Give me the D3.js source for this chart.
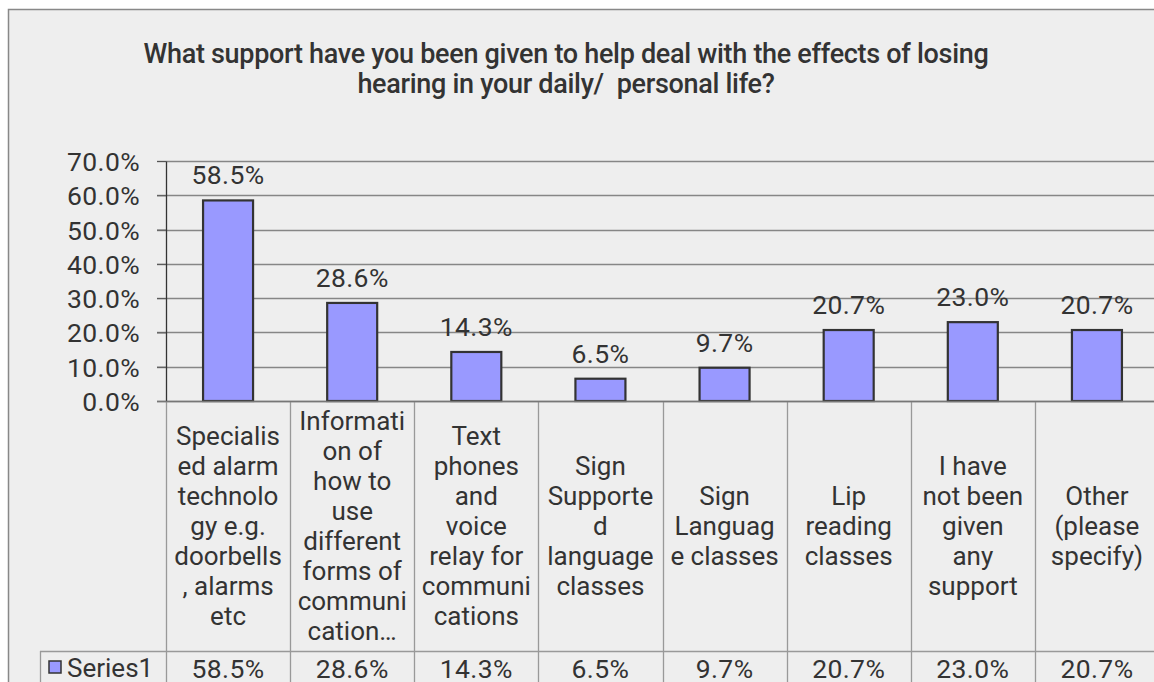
<!DOCTYPE html>
<html><head><meta charset="utf-8">
<script src="https://cdn.jsdelivr.net/npm/d3@7"></script>
<style>
html,body{margin:0;padding:0;background:#fff;}
svg{display:block;font-family:Roboto,"Liberation Sans",Arial,sans-serif;}
text{white-space:pre;}
</style></head>
<body><svg id="c" width="1154" height="682"></svg>
<script>
const titleLines = ["What support have you been given to help deal with the effects of losing", "hearing in your daily/  personal life?"];
const categories = [
  ["Specialis","ed alarm","technolo","gy e.g.","doorbells",", alarms","etc"],
  ["Informati","on of","how to","use","different","forms of","communi","cation…"],
  ["Text","phones","and","voice","relay for","communi","cations"],
  ["Sign","Supporte","d","language","classes"],
  ["Sign","Languag","e classes"],
  ["Lip","reading","classes"],
  ["I have","not been","given","any","support"],
  ["Other","(please","specify)"]
];
const seriesName = "Series1";
const values = [58.5, 28.6, 14.3, 6.5, 9.7, 20.7, 23.0, 20.7];
const yTicks = [0, 10, 20, 30, 40, 50, 60, 70];

const svg = d3.select("#c");
const txt = "#333";
const fmt = v => d3.format(".1f")(v) + "%";
const numSize = 26.5, numLS = 0.4, catSize = 26;

// outer frame
svg.append("rect").attr("x", 8.5).attr("y", 9.5).attr("width", 1200).attr("height", 700)
  .attr("fill", "#eeeeee").attr("stroke", "#888").attr("stroke-width", 1.5);

// title
svg.append("g").selectAll("text").data(titleLines).join("text")
  .attr("x", 566).attr("y", (d, i) => 63 + i * 30)
  .attr("text-anchor", "middle").attr("fill", txt)
  .attr("font-size", 27).attr("font-weight", 500).attr("letter-spacing", "-0.3")
  .text(d => d);

const x = d3.scaleBand().domain(d3.range(categories.length)).range([166, 1159]).padding(0);
const y = d3.scaleLinear().domain([0, 70]).range([401, 161]);

// gridlines
svg.append("g").selectAll("line").data(yTicks).join("line")
  .attr("x1", 157).attr("x2", 1160)
  .attr("y1", d => Math.round(y(d)) + 0.5).attr("y2", d => Math.round(y(d)) + 0.5)
  .attr("stroke", "#868686").attr("stroke-width", 1.3);

// y axis
const yAxis = svg.append("g").attr("transform", "translate(166,0)")
  .call(d3.axisLeft(y).tickValues(yTicks).tickFormat(fmt).tickSizeInner(9).tickSizeOuter(0).tickPadding(17));
yAxis.select(".domain").attr("stroke", "#333").attr("stroke-width", 1.3);
yAxis.selectAll(".tick line").attr("stroke", "#555");
yAxis.selectAll(".tick text").attr("font-size", numSize).attr("letter-spacing", numLS).attr("fill", txt)
  .attr("font-family", "Roboto,'Liberation Sans',Arial,sans-serif").attr("dy", "0.36em");

// bars
const bw = 50;
svg.append("g").selectAll("rect").data(values).join("rect")
  .attr("x", (d, i) => x(i) + x.bandwidth() / 2 - bw / 2)
  .attr("y", d => y(d)).attr("width", bw).attr("height", d => y(0) - y(d))
  .attr("fill", "#9999ff").attr("stroke", "#333").attr("stroke-width", 2.2);

// data labels
svg.append("g").selectAll("text").data(values).join("text")
  .attr("x", (d, i) => x(i) + x.bandwidth() / 2).attr("y", d => y(d) - 16)
  .attr("text-anchor", "middle").attr("font-size", numSize).attr("letter-spacing", numLS).attr("fill", txt)
  .text(fmt);

// table lines
const tbl = svg.append("g").attr("stroke", "#999").attr("stroke-width", 1.3);
const bounds = d3.range(categories.length + 1).map(i => i < categories.length ? x(i) : x(categories.length - 1) + x.bandwidth());
tbl.selectAll("line.v").data(bounds).join("line").attr("class", "v")
  .attr("x1", d => Math.round(d) + 0.5).attr("x2", d => Math.round(d) + 0.5)
  .attr("y1", 401).attr("y2", 690);
tbl.append("line").attr("x1", 40).attr("x2", 1160).attr("y1", 651.5).attr("y2", 651.5);
tbl.append("line").attr("x1", 40.5).attr("x2", 40.5).attr("y1", 651).attr("y2", 690);
svg.append("line").attr("x1", 157).attr("x2", 1160).attr("y1", 401.5).attr("y2", 401.5)
  .attr("stroke", "#777").attr("stroke-width", 1.5);

// category labels
const lh = 30, cy = 526;
const cat = svg.append("g").attr("font-size", catSize).attr("fill", txt).attr("text-anchor", "middle");
categories.forEach((lines, i) => {
  cat.append("text").selectAll("tspan").data(lines).join("tspan")
    .attr("x", x(i) + x.bandwidth() / 2)
    .attr("y", (d, j) => cy + (j - (lines.length - 1) / 2) * lh)
    .attr("dy", "0.36em").text(d => d);
});

// legend/value row
svg.append("rect").attr("x", 49).attr("y", 661).attr("width", 12).attr("height", 12)
  .attr("fill", "#9999ff").attr("stroke", "#333").attr("stroke-width", 1.5);
svg.append("text").attr("x", 67).attr("y", 668).attr("dy", "0.36em")
  .attr("font-size", catSize).attr("fill", txt).text(seriesName);
svg.append("g").selectAll("text").data(values).join("text")
  .attr("x", (d, i) => x(i) + x.bandwidth() / 2).attr("y", 668).attr("dy", "0.36em")
  .attr("text-anchor", "middle").attr("font-size", numSize).attr("letter-spacing", numLS).attr("fill", txt).text(fmt);
</script></body></html>
